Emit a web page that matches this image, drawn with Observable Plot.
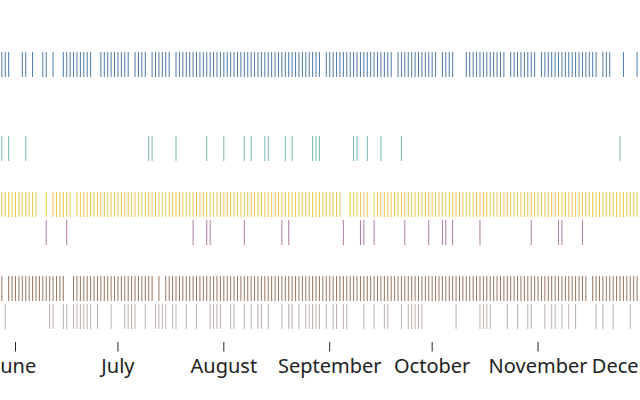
<!DOCTYPE html>
<html>
<head>
<meta charset="utf-8">
<script src="https://cdn.jsdelivr.net/npm/d3@7"></script>
<script src="https://cdn.jsdelivr.net/npm/@observablehq/plot@0.6"></script>
<style>
  html, body { margin: 0; padding: 0; background: white; }
  #chart svg { display: block; }
</style>
</head>
<body>
<div id="chart"></div>
<script>
// Ten ordinal categories (tableau10 order); only six have events in view.
const categories = ["c0","c1","c2","c3","c4","c5","c6","c7","c8","c9"];
const monthTicks = ["2021-06-01","2021-07-01","2021-08-01","2021-09-01","2021-10-01","2021-11-01","2021-12-01"];

// Event days, as day offsets from June 1.
const c0Days = [-4,-3,-2,2,3,5,8,9,11,
  14,15,16,17,18,19,20,21,22,
  25,26,27,28,29,30,31,32,33,
  35,36,37,38,
  40,41,42,43,44,45,
  47,48,49,50,51,52,53,54,55,56,57,58,59,60,61,62,63,64,65,66,67,68,69,70,71,72,73,74,75,76,77,78,79,80,81,82,83,84,85,86,87,88,89,
  91,92,93,94,95,96,97,98,99,100,101,102,103,104,105,106,107,108,109,110,
  112,113,114,115,116,117,118,119,120,121,122,123,
  125,126,127,128,
  132,133,134,135,136,137,138,139,140,141,142,143,
  145,146,147,148,149,150,151,152,
  154,155,156,157,158,159,160,161,162,163,164,165,166,167,168,169,170,
  172,173,174,178,182];
const c3Days = [-4,-2,3,39,40,47,56,61,67,69,73,74,79,81,87,88,89,99,100,103,107,113,177];
const c5Days = [-4,-3,-2,-1,0,1,2,3,4,5,6,9,11,12,13,14,15,16,
  18,19,20,21,22,23,24,25,26,27,28,29,30,31,32,33,34,35,36,37,38,39,40,41,42,43,44,45,46,47,48,49,50,51,52,53,54,55,56,57,
  58,59,60,61,62,63,64,65,66,67,68,69,70,71,72,73,74,75,76,77,78,79,80,81,82,83,84,85,86,87,88,89,90,91,92,93,94,95,
  98,99,100,101,102,103,
  105,106,107,108,109,110,111,112,113,114,115,116,117,118,119,120,121,122,123,124,125,126,127,128,129,130,131,132,133,134,
  135,136,137,138,139,140,141,142,143,144,145,146,147,148,149,150,151,152,153,154,155,156,157,158,159,160,161,162,163,164,
  165,166,167,168,169,170,171,172,173,174,175,176,177,178,179,180,181,182];
const c6Days = [9,15,52,56,57,67,78,80,96,101,102,105,114,121,125,126,128,136,151,159,160,166];
const c8Days = [-4,-2,-1,0,1,2,3,4,5,6,7,8,9,10,11,12,13,14,
  17,18,19,20,21,22,23,24,25,26,27,28,29,30,31,32,33,34,35,36,37,38,39,40,42,
  44,45,46,47,48,49,50,51,52,53,54,55,56,57,58,59,60,61,62,63,64,65,66,67,68,69,70,71,72,73,74,75,76,77,78,79,80,
  81,82,83,84,85,86,87,88,89,90,91,92,93,94,95,96,97,98,99,100,101,102,103,104,105,106,107,108,109,110,111,112,113,114,
  115,116,117,118,119,120,121,122,123,124,125,126,127,128,129,130,131,132,133,134,135,136,137,138,139,140,141,142,143,
  144,145,146,147,148,149,150,151,152,153,154,155,156,157,158,159,160,161,162,163,164,165,166,167,
  169,170,171,172,173,174,175,176,177,178,179,180,181,182];
const c9Days = [-3,10,11,14,15,17,18,19,20,21,22,24,28,32,33,34,35,38,41,42,43,44,46,47,50,53,57,58,59,60,63,64,67,69,71,72,74,
  78,80,81,83,85,86,87,88,89,91,93,94,96,97,102,105,108,109,113,115,116,117,118,119,129,136,137,138,139,144,147,150,151,
  155,157,158,160,162,164,170,172,175,180];

const series = [["c0", c0Days], ["c3", c3Days], ["c5", c5Days], ["c6", c6Days], ["c8", c8Days], ["c9", c9Days]];
const base = Date.UTC(2021, 5, 1);
const DAY = 864e5;
const events = series.flatMap(([cat, days]) => days.map(d => ({date: new Date(base + d * DAY), cat})));

const chart = Plot.plot({
  width: 640,
  height: 400,
  marginLeft: 0,
  marginRight: 0,
  marginTop: 49,
  marginBottom: 58,
  style: {fontFamily: "Noto Sans", fontSize: "20px", color: "#222", background: "white"},
  x: {type: "utc", domain: [new Date(base - 4.39 * DAY), new Date(Date.UTC(2021, 11, 1))]},
  y: {domain: categories, range: [49, 332], axis: null},
  color: {domain: categories, range: d3.schemeTableau10},
  marks: [
    Plot.tickX(events, {x: "date", y: "cat", stroke: "cat", strokeWidth: 1}),
    Plot.axisX({ticks: monthTicks.map(s => new Date(s)), tickFormat: d3.utcFormat("%B"), tickSize: 9.5, tickPadding: 6.5, fontSize: 20})
  ]
});
document.getElementById("chart").append(chart);
</script>
</body>
</html>
